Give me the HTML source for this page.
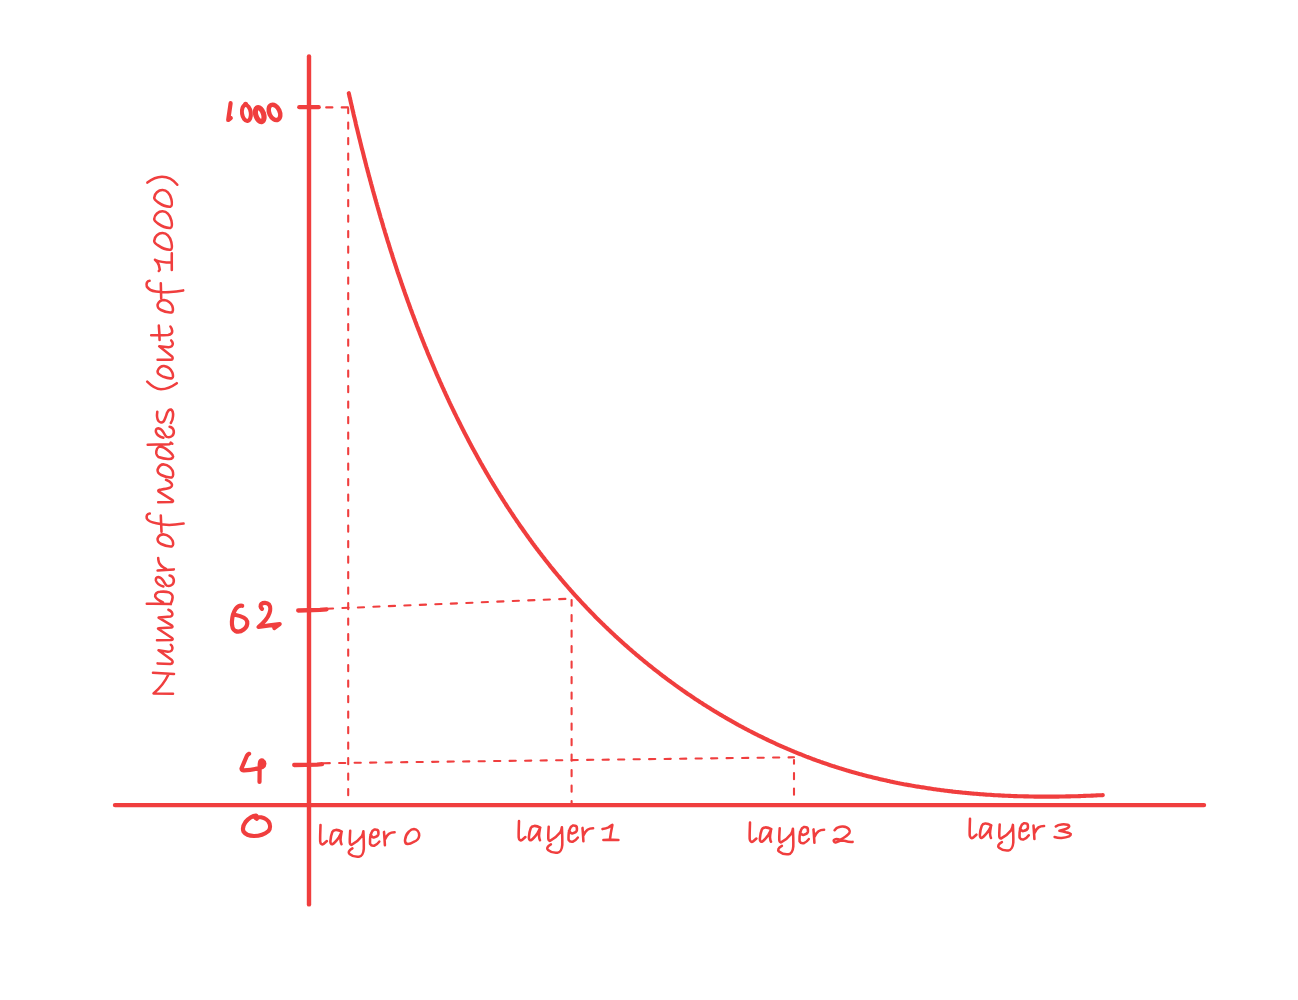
<!DOCTYPE html>
<html><head><meta charset="utf-8"><style>
html,body{margin:0;padding:0;background:#fff;width:1298px;height:1000px;overflow:hidden}
svg{display:block}
</style></head><body>
<svg width="1298" height="1000" viewBox="0 0 1298 1000">
<g fill="none" stroke="#f03e3e" stroke-linecap="round" stroke-linejoin="round">
<path d="M115,805.1 L1204,805.1" stroke-width="4.4"/>
<path d="M309,56.4 L309,904.4" stroke-width="4.4"/>
<path d="M348.8,93.2 L349.1,94.4 L349.3,95.7 L349.6,96.9 L349.9,98.1 L350.2,99.3 L350.4,100.5 L350.7,101.7 L351.0,103.0 L351.3,104.2 L351.6,105.4 L351.8,106.6 L352.1,107.8 L352.4,109.1 L352.7,110.3 L353.0,111.5 L353.3,112.7 L353.5,113.9 L353.8,115.2 L354.1,116.4 L354.4,117.6 L354.7,118.8 L355.0,120.0 L355.3,121.3 L355.6,122.5 L355.8,123.7 L356.1,124.9 L356.4,126.2 L356.7,127.4 L357.0,128.6 L357.3,129.8 L357.6,131.0 L357.9,132.3 L358.2,133.5 L358.5,134.7 L358.8,135.9 L359.1,137.2 L359.4,138.4 L359.7,139.6 L360.0,140.8 L360.3,142.1 L360.6,143.3 L360.9,144.5 L361.2,145.7 L361.5,147.0 L361.8,148.2 L362.1,149.4 L362.5,150.6 L362.8,151.9 L363.1,153.1 L363.4,154.3 L363.7,155.5 L364.0,156.8 L364.3,158.0 L364.6,159.2 L365.0,160.4 L365.3,161.7 L365.6,162.9 L365.9,164.1 L366.2,165.4 L366.5,166.6 L366.9,167.8 L367.2,169.0 L367.5,170.3 L367.8,171.5 L368.2,172.7 L368.5,173.9 L368.8,175.2 L369.1,176.4 L369.5,177.6 L369.8,178.8 L370.1,180.1 L370.5,181.3 L370.8,182.5 L371.1,183.8 L371.5,185.0 L371.8,186.2 L372.1,187.4 L372.5,188.7 L372.8,189.9 L373.1,191.1 L373.5,192.3 L373.8,193.6 L374.2,194.8 L374.5,196.0 L374.8,197.2 L375.2,198.5 L375.5,199.7 L375.9,200.9 L376.2,202.1 L376.6,203.4 L376.9,204.6 L377.3,205.8 L377.6,207.0 L378.0,208.3 L378.3,209.5 L378.7,210.7 L379.0,211.9 L379.4,213.2 L379.7,214.4 L380.1,215.6 L380.4,216.8 L380.8,218.1 L381.2,219.3 L381.5,220.5 L381.9,221.7 L382.3,223.0 L382.6,224.2 L383.0,225.4 L383.3,226.6 L383.7,227.9 L384.1,229.1 L384.5,230.3 L384.8,231.5 L385.2,232.8 L385.6,234.0 L385.9,235.2 L386.3,236.4 L386.7,237.6 L387.1,238.9 L387.4,240.1 L387.8,241.3 L388.2,242.5 L388.6,243.7 L389.0,245.0 L389.3,246.2 L389.7,247.4 L390.1,248.6 L390.5,249.8 L390.9,251.1 L391.3,252.3 L391.7,253.5 L392.1,254.7 L392.4,255.9 L392.8,257.2 L393.2,258.4 L393.6,259.6 L394.0,260.8 L394.4,262.0 L394.8,263.2 L395.2,264.5 L395.6,265.7 L396.0,266.9 L396.4,268.1 L396.8,269.3 L397.2,270.5 L397.6,271.8 L398.0,273.0 L398.4,274.2 L398.8,275.4 L399.3,276.6 L399.7,277.8 L400.1,279.0 L400.5,280.2 L400.9,281.5 L401.3,282.7 L401.7,283.9 L402.2,285.1 L402.6,286.3 L403.0,287.5 L403.4,288.7 L403.8,289.9 L404.3,291.1 L404.7,292.4 L405.1,293.6 L405.5,294.8 L406.0,296.0 L406.4,297.2 L406.8,298.4 L407.3,299.6 L407.7,300.8 L408.1,302.0 L408.6,303.2 L409.0,304.4 L409.4,305.6 L409.9,306.8 L410.3,308.0 L410.7,309.2 L411.2,310.4 L411.6,311.6 L412.1,312.8 L412.5,314.0 L413.0,315.2 L413.4,316.4 L413.9,317.6 L414.3,318.8 L414.8,320.0 L415.2,321.2 L415.7,322.4 L416.1,323.6 L416.6,324.8 L417.0,326.0 L417.5,327.2 L418.0,328.4 L418.4,329.6 L418.9,330.8 L419.4,332.0 L419.8,333.2 L420.3,334.4 L420.8,335.6 L421.2,336.8 L421.7,337.9 L422.2,339.1 L422.6,340.3 L423.1,341.5 L423.6,342.7 L424.1,343.9 L424.5,345.1 L425.0,346.3 L425.5,347.4 L426.0,348.6 L426.5,349.8 L427.0,351.0 L427.4,352.2 L427.9,353.4 L428.4,354.6 L428.9,355.7 L429.4,356.9 L429.9,358.1 L430.4,359.3 L430.9,360.5 L431.4,361.6 L431.9,362.8 L432.4,364.0 L432.9,365.2 L433.4,366.3 L433.9,367.5 L434.4,368.7 L434.9,369.9 L435.4,371.0 L435.9,372.2 L436.4,373.4 L436.9,374.6 L437.4,375.7 L437.9,376.9 L438.5,378.1 L439.0,379.2 L439.5,380.4 L440.0,381.6 L440.5,382.7 L441.1,383.9 L441.6,385.1 L442.1,386.2 L442.6,387.4 L443.2,388.6 L443.7,389.7 L444.2,390.9 L444.7,392.0 L445.3,393.2 L445.8,394.4 L446.3,395.5 L446.9,396.7 L447.4,397.8 L448.0,399.0 L448.5,400.1 L449.0,401.3 L449.6,402.5 L450.1,403.6 L450.7,404.8 L451.2,405.9 L451.8,407.1 L452.3,408.2 L452.9,409.4 L453.4,410.5 L454.0,411.7 L454.5,412.8 L455.1,413.9 L455.7,415.1 L456.2,416.2 L456.8,417.4 L457.4,418.5 L457.9,419.7 L458.5,420.8 L459.1,421.9 L459.6,423.1 L460.2,424.2 L460.8,425.4 L461.3,426.5 L461.9,427.6 L462.5,428.8 L463.1,429.9 L463.7,431.0 L464.2,432.2 L464.8,433.3 L465.4,434.4 L466.0,435.6 L466.6,436.7 L467.2,437.8 L467.8,438.9 L468.3,440.1 L468.9,441.2 L469.5,442.3 L470.1,443.4 L470.7,444.6 L471.3,445.7 L471.9,446.8 L472.5,447.9 L473.1,449.0 L473.7,450.1 L474.4,451.3 L475.0,452.4 L475.6,453.5 L476.2,454.6 L476.8,455.7 L477.4,456.8 L478.0,457.9 L478.6,459.1 L479.3,460.2 L479.9,461.3 L480.5,462.4 L481.1,463.5 L481.8,464.6 L482.4,465.7 L483.0,466.8 L483.6,467.9 L484.3,469.0 L484.9,470.1 L485.5,471.2 L486.2,472.3 L486.8,473.4 L487.5,474.5 L488.1,475.6 L488.8,476.7 L489.4,477.8 L490.0,478.8 L490.7,479.9 L491.3,481.0 L492.0,482.1 L492.6,483.2 L493.3,484.3 L494.0,485.4 L494.6,486.4 L495.3,487.5 L495.9,488.6 L496.6,489.7 L497.3,490.8 L497.9,491.8 L498.6,492.9 L499.3,494.0 L499.9,495.1 L500.6,496.1 L501.3,497.2 L502.0,498.3 L502.6,499.4 L503.3,500.4 L504.0,501.5 L504.7,502.6 L505.4,503.6 L506.0,504.7 L506.7,505.7 L507.4,506.8 L508.1,507.9 L508.8,508.9 L509.5,510.0 L510.2,511.0 L510.9,512.1 L511.6,513.1 L512.3,514.2 L513.0,515.3 L513.7,516.3 L514.4,517.4 L515.1,518.4 L515.8,519.4 L516.5,520.5 L517.2,521.5 L518.0,522.6 L518.7,523.6 L519.4,524.7 L520.1,525.7 L520.8,526.7 L521.6,527.8 L522.3,528.8 L523.0,529.8 L523.7,530.9 L524.5,531.9 L525.2,532.9 L525.9,534.0 L526.7,535.0 L527.4,536.0 L528.1,537.0 L528.9,538.1 L529.6,539.1 L530.4,540.1 L531.1,541.1 L531.9,542.2 L532.6,543.2 L533.4,544.2 L534.1,545.2 L534.9,546.2 L535.6,547.2 L536.4,548.2 L537.1,549.2 L537.9,550.3 L538.7,551.3 L539.4,552.3 L540.2,553.3 L541.0,554.3 L541.7,555.3 L542.5,556.3 L543.3,557.3 L544.1,558.3 L544.8,559.3 L545.6,560.3 L546.4,561.2 L547.2,562.2 L548.0,563.2 L548.8,564.2 L549.6,565.2 L550.3,566.2 L551.1,567.2 L551.9,568.2 L552.7,569.1 L553.5,570.1 L554.3,571.1 L555.1,572.1 L555.9,573.0 L556.7,574.0 L557.5,575.0 L558.4,576.0 L559.2,576.9 L560.0,577.9 L560.8,578.9 L561.6,579.8 L562.4,580.8 L563.2,581.8 L564.1,582.7 L564.9,583.7 L565.7,584.6 L566.6,585.6 L567.4,586.5 L568.2,587.5 L569.0,588.4 L569.9,589.4 L570.7,590.3 L571.6,591.3 L572.4,592.2 L573.2,593.2 L574.1,594.1 L574.9,595.1 L575.8,596.0 L576.6,596.9 L577.5,597.9 L578.3,598.8 L579.2,599.7 L580.1,600.7 L580.9,601.6 L581.8,602.5 L582.6,603.5 L583.5,604.4 L584.4,605.3 L585.3,606.2 L586.1,607.1 L587.0,608.1 L587.9,609.0 L588.8,609.9 L589.6,610.8 L590.5,611.7 L591.4,612.6 L592.3,613.5 L593.2,614.4 L594.1,615.4 L594.9,616.3 L595.8,617.2 L596.7,618.1 L597.6,619.0 L598.5,619.9 L599.4,620.7 L600.3,621.6 L601.2,622.5 L602.1,623.4 L603.1,624.3 L604.0,625.2 L604.9,626.1 L605.8,627.0 L606.7,627.8 L607.6,628.7 L608.5,629.6 L609.5,630.5 L610.4,631.4 L611.3,632.2 L612.2,633.1 L613.2,634.0 L614.1,634.8 L615.0,635.7 L615.9,636.6 L616.9,637.4 L617.8,638.3 L618.8,639.1 L619.7,640.0 L620.6,640.9 L621.6,641.7 L622.5,642.6 L623.5,643.4 L624.4,644.3 L625.4,645.1 L626.3,645.9 L627.3,646.8 L628.2,647.6 L629.2,648.5 L630.2,649.3 L631.1,650.1 L632.1,651.0 L633.0,651.8 L634.0,652.6 L635.0,653.4 L635.9,654.3 L636.9,655.1 L637.9,655.9 L638.9,656.7 L639.8,657.6 L640.8,658.4 L641.8,659.2 L642.8,660.0 L643.8,660.8 L644.7,661.6 L645.7,662.4 L646.7,663.2 L647.7,664.0 L648.7,664.8 L649.7,665.6 L650.7,666.4 L651.7,667.2 L652.7,668.0 L653.7,668.8 L654.7,669.6 L655.7,670.4 L656.7,671.1 L657.7,671.9 L658.7,672.7 L659.7,673.5 L660.7,674.3 L661.7,675.0 L662.7,675.8 L663.7,676.6 L664.8,677.3 L665.8,678.1 L666.8,678.9 L667.8,679.6 L668.8,680.4 L669.9,681.1 L670.9,681.9 L671.9,682.6 L673.0,683.4 L674.0,684.1 L675.0,684.9 L676.0,685.6 L677.1,686.4 L678.1,687.1 L679.2,687.9 L680.2,688.6 L681.2,689.3 L682.3,690.1 L683.3,690.8 L684.4,691.5 L685.4,692.2 L686.5,693.0 L687.5,693.7 L688.6,694.4 L689.6,695.1 L690.7,695.8 L691.7,696.5 L692.8,697.2 L693.8,698.0 L694.9,698.7 L696.0,699.4 L697.0,700.1 L698.1,700.8 L699.2,701.5 L700.2,702.2 L701.3,702.8 L702.4,703.5 L703.4,704.2 L704.5,704.9 L705.6,705.6 L706.7,706.3 L707.7,706.9 L708.8,707.6 L709.9,708.3 L711.0,709.0 L712.1,709.6 L713.1,710.3 L714.2,711.0 L715.3,711.6 L716.4,712.3 L717.5,712.9 L718.6,713.6 L719.7,714.2 L720.8,714.9 L721.9,715.5 L723.0,716.2 L724.1,716.8 L725.2,717.5 L726.3,718.1 L727.4,718.7 L728.5,719.4 L729.6,720.0 L730.7,720.6 L731.8,721.3 L732.9,721.9 L734.0,722.5 L735.1,723.1 L736.2,723.7 L737.3,724.4 L738.4,725.0 L739.6,725.6 L740.7,726.2 L741.8,726.8 L742.9,727.4 L744.0,728.0 L745.2,728.6 L746.3,729.2 L747.4,729.8 L748.5,730.4 L749.7,731.0 L750.8,731.5 L751.9,732.1 L753.0,732.7 L754.2,733.3 L755.3,733.9 L756.4,734.4 L757.6,735.0 L758.7,735.6 L759.9,736.1 L761.0,736.7 L762.1,737.2 L763.3,737.8 L764.4,738.4 L765.6,738.9 L766.7,739.5 L767.9,740.0 L769.0,740.6 L770.2,741.1 L771.3,741.6 L772.5,742.2 L773.6,742.7 L774.8,743.2 L775.9,743.8 L777.1,744.3 L778.2,744.8 L779.4,745.3 L780.5,745.8 L781.7,746.4 L782.9,746.9 L784.0,747.4 L785.2,747.9 L786.4,748.4 L787.5,748.9 L788.7,749.4 L789.9,749.9 L791.0,750.4 L792.2,750.9 L793.4,751.4 L794.5,751.9 L795.7,752.3 L796.9,752.8 L798.1,753.3 L799.2,753.8 L800.4,754.2 L801.6,754.7 L802.8,755.2 L804.0,755.6 L805.1,756.1 L806.3,756.6 L807.5,757.0 L808.7,757.5 L809.9,757.9 L811.1,758.4 L812.2,758.8 L813.4,759.3 L814.6,759.7 L815.8,760.1 L817.0,760.6 L818.2,761.0 L819.4,761.4 L820.6,761.9 L821.8,762.3 L823.0,762.7 L824.2,763.1 L825.4,763.5 L826.6,763.9 L827.8,764.3 L829.0,764.8 L830.2,765.2 L831.4,765.6 L832.6,766.0 L833.8,766.3 L835.0,766.7 L836.2,767.1 L837.4,767.5 L838.6,767.9 L839.8,768.3 L841.1,768.6 L842.3,769.0 L843.5,769.4 L844.7,769.8 L845.9,770.1 L847.1,770.5 L848.3,770.8 L849.6,771.2 L850.8,771.6 L852.0,771.9 L853.2,772.3 L854.4,772.6 L855.7,772.9 L856.9,773.3 L858.1,773.6 L859.3,774.0 L860.6,774.3 L861.8,774.6 L863.0,774.9 L864.2,775.3 L865.5,775.6 L866.7,775.9 L867.9,776.2 L869.1,776.5 L870.4,776.8 L871.6,777.1 L872.8,777.4 L874.1,777.7 L875.3,778.0 L876.5,778.3 L877.8,778.6 L879.0,778.9 L880.3,779.2 L881.5,779.5 L882.7,779.8 L884.0,780.1 L885.2,780.3 L886.5,780.6 L887.7,780.9 L888.9,781.1 L890.2,781.4 L891.4,781.7 L892.7,781.9 L893.9,782.2 L895.2,782.5 L896.4,782.7 L897.6,783.0 L898.9,783.2 L900.1,783.5 L901.4,783.7 L902.6,783.9 L903.9,784.2 L905.1,784.4 L906.4,784.6 L907.6,784.9 L908.9,785.1 L910.1,785.3 L911.4,785.6 L912.6,785.8 L913.9,786.0 L915.2,786.2 L916.4,786.4 L917.7,786.6 L918.9,786.8 L920.2,787.0 L921.4,787.2 L922.7,787.4 L923.9,787.6 L925.2,787.8 L926.5,788.0 L927.7,788.2 L929.0,788.4 L930.2,788.6 L931.5,788.8 L932.8,789.0 L934.0,789.2 L935.3,789.3 L936.5,789.5 L937.8,789.7 L939.1,789.8 L940.3,790.0 L941.6,790.2 L942.9,790.3 L944.1,790.5 L945.4,790.7 L946.7,790.8 L947.9,791.0 L949.2,791.1 L950.5,791.3 L951.7,791.4 L953.0,791.6 L954.2,791.7 L955.5,791.9 L956.8,792.0 L958.1,792.1 L959.3,792.3 L960.6,792.4 L961.9,792.5 L963.1,792.7 L964.4,792.8 L965.7,792.9 L966.9,793.0 L968.2,793.1 L969.5,793.3 L970.7,793.4 L972.0,793.5 L973.3,793.6 L974.6,793.7 L975.8,793.8 L977.1,793.9 L978.4,794.0 L979.6,794.1 L980.9,794.2 L982.2,794.3 L983.5,794.4 L984.7,794.5 L986.0,794.6 L987.3,794.7 L988.5,794.8 L989.8,794.8 L991.1,794.9 L992.4,795.0 L993.6,795.1 L994.9,795.2 L996.2,795.2 L997.5,795.3 L998.7,795.4 L1000.0,795.4 L1001.3,795.5 L1002.6,795.6 L1003.8,795.6 L1005.1,795.7 L1006.4,795.7 L1007.7,795.8 L1008.9,795.9 L1010.2,795.9 L1011.5,796.0 L1012.7,796.0 L1014.0,796.1 L1015.3,796.1 L1016.6,796.1 L1017.8,796.2 L1019.1,796.2 L1020.4,796.3 L1021.7,796.3 L1022.9,796.3 L1024.2,796.4 L1025.5,796.4 L1026.8,796.4 L1028.0,796.4 L1029.3,796.5 L1030.6,796.5 L1031.9,796.5 L1033.1,796.5 L1034.4,796.6 L1035.7,796.6 L1036.9,796.6 L1038.2,796.6 L1039.5,796.6 L1040.8,796.6 L1042.0,796.6 L1043.3,796.6 L1044.6,796.6 L1045.8,796.6 L1047.1,796.6 L1048.4,796.6 L1049.7,796.6 L1050.9,796.6 L1052.2,796.6 L1053.5,796.6 L1054.7,796.6 L1056.0,796.6 L1057.3,796.6 L1058.6,796.6 L1059.8,796.5 L1061.1,796.5 L1062.4,796.5 L1063.6,796.5 L1064.9,796.5 L1066.2,796.4 L1067.4,796.4 L1068.7,796.4 L1070.0,796.4 L1071.2,796.3 L1072.5,796.3 L1073.8,796.3 L1075.0,796.2 L1076.3,796.2 L1077.6,796.2 L1078.8,796.1 L1080.1,796.1 L1081.4,796.0 L1082.6,796.0 L1083.9,795.9 L1085.2,795.9 L1086.4,795.8 L1087.7,795.8 L1088.9,795.7 L1090.2,795.7 L1091.5,795.6 L1092.7,795.6 L1094.0,795.5 L1095.2,795.5 L1096.5,795.4 L1097.8,795.3 L1099.0,795.3 L1100.3,795.2 L1101.5,795.2 L1102.8,795.1" stroke-width="4.1"/>
<path d="M299.3,107.2 L318.7,107.2" stroke-width="4.3"/>
<path d="M298.2,610.5 L320,609.9 L326.5,609.3" stroke-width="4.3"/>
<path d="M294.2,765 L317,764.6 L322,764.2" stroke-width="4.3"/>
<path d="M326.2,107.4 L348.2,107.4" stroke-width="2.1" stroke-dasharray="6.2 9.3" stroke-dashoffset="0"/>
<path d="M348.2,108.5 L348.2,803" stroke-width="2.1" stroke-dasharray="6.2 9.3" stroke-dashoffset="1.4"/>
<path d="M322.4,608.9 L571.5,598.6" stroke-width="2.1" stroke-dasharray="6.2 9.3" stroke-dashoffset="11"/>
<path d="M571.6,600 L571.6,803" stroke-width="2.1" stroke-dasharray="6.2 9.3" stroke-dashoffset="0.5"/>
<path d="M316.2,763.3 L794,757.3" stroke-width="2.1" stroke-dasharray="6.2 9.3" stroke-dashoffset="8.1"/>
<path d="M794,760 L794,803" stroke-width="2.1" stroke-dasharray="6.2 9.3" stroke-dashoffset="2.5"/>
<g stroke-width="4.2">
<path d="M230.6,103.2 C230,108 229,114 228.2,120 L230.8,118"/>
<ellipse cx="246.4" cy="113.0" rx="4.4" ry="8.0" stroke-width="4.0" transform="rotate(-8 246.4 113.0)"/>
<circle cx="245.6" cy="104.2" r="2.5" fill="#f03e3e" stroke="none"/>
<ellipse cx="259.7" cy="114.6" rx="3.9" ry="7.3" stroke-width="5.2" transform="rotate(-18 259.7 114.6)"/>
<ellipse cx="274.5" cy="112.4" rx="5.2" ry="8.1" stroke-width="4.5" transform="rotate(-25 274.5 112.4)"/>
<path d="M242.2,605.8 C240,605.4 237.5,606.5 235.8,608.8 C233.5,612 232.2,617 231.9,621.6 C231.7,626 232.8,629.5 235.3,631 C238,632.2 241.5,631.2 243.7,629.5 C246.3,627.5 247.6,624 247.2,621.5 C246.5,618.5 242,616 234.8,614.7"/>
<path d="M262,608.8 C260.5,607.5 259.8,605.5 261.5,603.8 C263,602.6 267,602.3 269,604.5 C270.5,606.5 270.5,610.5 269.5,613 C268,618 264.5,622 258.5,627 C265,626 272,625 279.7,624.1 L274.3,628"/>
<circle cx="262.6" cy="763.2" r="2.4" fill="#f03e3e" stroke="none"/>
<path d="M249.1,753.8 C248,754.2 247.3,755 246.8,756 L241.5,768.5 C241.6,770 242.5,770.6 244,770.4 C250,770 257,769 262.5,767 C265,765.5 265,762 262.5,760.5 C260.5,759.5 259.8,762 259.7,765 L259.5,782"/>
<path d="M256.8,818.8 C256.3,817.5 257,815.8 256,815.6 C253,815.8 249,818 245.5,822 C243,825.5 242.5,829 243.5,831.5 C245.5,834.5 250,836 254,836 C259,836 265,834 268.5,831 C270.5,828.5 270.5,824.5 268.5,821.5 C266,818.5 262,817 258,817 L255.6,818"/>
</g>
<g stroke-width="2.55">
<g>
<path d="M320.5,825 C320.4,830 320,837 320.2,841.5 C320.4,844 322,845 323.5,844 L326.9,841"/>
<path d="M341.8,831.6 C339.5,830.3 337.5,829.8 335.7,829.9 C334,830 332.8,830.8 332.3,832 C331.3,834.5 330.6,838 330.4,841 C330.3,843 331,844.5 332.2,844.3 C334.5,843 337,840 338.8,837.4 C340,835.5 341,833.5 341.5,832.3 C341,835 340.5,838 340.5,840 C340.7,842 341,843.5 341.5,844.2"/>
<path d="M350.2,830.8 C350,835 349.6,839 349.8,842.6 C350,844.5 350.8,845 351.5,844.8 C355,843 359,840 361.6,836.5 C362.6,835 363.2,833 363.4,831.2 C363.7,837 363.9,844 363.8,848.8 C363.5,853 361.5,856.5 359,856.7 C356.5,857 352,856 349.5,854 C348,852.8 348.5,850.5 352.4,848.4"/>
<path d="M370.5,834.6 C371.5,836.5 372.5,837.5 373.8,837.4 C376,837 378,836 378.4,834.2 C378.6,832 378,830.2 377.5,830 C376,829.3 375,829.4 374.2,829.6 C372.8,830.2 371.8,831.5 371.5,832.8 C370.6,835 370.1,837 370.1,838.8 C370,841 370,843 370.1,843.9 C371,845.5 372.5,846 374.2,845.7 C376,845 378,843.5 379.3,841.6"/>
<path d="M384,831.9 C384.3,836 384.7,841 384.9,845.3 M385.3,838.8 C386.2,836.5 387.5,834.8 389,833.7 C390.5,832.7 392.5,832.3 394.6,832.3"/>
</g>
<path d="M414,829 C417,829.3 419.2,832 419.2,835.5 C419,838.5 416.5,841 413.5,842 C411.5,843.3 409.5,844 407.8,844 C405.8,843.8 404.9,842.3 405,840.2 C405.3,837 407,833.5 409,831.5 C410.6,829.8 412.5,829 414,829 Z"/>
<g transform="translate(198.5,-4)">
<path d="M320.5,825 C320.4,830 320,837 320.2,841.5 C320.4,844 322,845 323.5,844 L326.9,841"/>
<path d="M341.8,831.6 C339.5,830.3 337.5,829.8 335.7,829.9 C334,830 332.8,830.8 332.3,832 C331.3,834.5 330.6,838 330.4,841 C330.3,843 331,844.5 332.2,844.3 C334.5,843 337,840 338.8,837.4 C340,835.5 341,833.5 341.5,832.3 C341,835 340.5,838 340.5,840 C340.7,842 341,843.5 341.5,844.2"/>
<path d="M350.2,830.8 C350,835 349.6,839 349.8,842.6 C350,844.5 350.8,845 351.5,844.8 C355,843 359,840 361.6,836.5 C362.6,835 363.2,833 363.4,831.2 C363.7,837 363.9,844 363.8,848.8 C363.5,853 361.5,856.5 359,856.7 C356.5,857 352,856 349.5,854 C348,852.8 348.5,850.5 352.4,848.4"/>
<path d="M370.5,834.6 C371.5,836.5 372.5,837.5 373.8,837.4 C376,837 378,836 378.4,834.2 C378.6,832 378,830.2 377.5,830 C376,829.3 375,829.4 374.2,829.6 C372.8,830.2 371.8,831.5 371.5,832.8 C370.6,835 370.1,837 370.1,838.8 C370,841 370,843 370.1,843.9 C371,845.5 372.5,846 374.2,845.7 C376,845 378,843.5 379.3,841.6"/>
<path d="M384,831.9 C384.3,836 384.7,841 384.9,845.3 M385.3,838.8 C386.2,836.5 387.5,834.8 389,833.7 C390.5,832.7 392.5,832.3 394.6,832.3"/>
</g>
<path d="M602.5,829.1 C604.5,828.7 606.5,828.2 608.5,827.3 C610,826.5 611.5,825.5 612.4,824.9 C611.5,829 610.5,834 610,839 M603.4,839.9 C608,839.8 613,839.9 618.4,839.9"/>
<g transform="translate(429.5,-2.5)">
<path d="M320.5,825 C320.4,830 320,837 320.2,841.5 C320.4,844 322,845 323.5,844 L326.9,841"/>
<path d="M341.8,831.6 C339.5,830.3 337.5,829.8 335.7,829.9 C334,830 332.8,830.8 332.3,832 C331.3,834.5 330.6,838 330.4,841 C330.3,843 331,844.5 332.2,844.3 C334.5,843 337,840 338.8,837.4 C340,835.5 341,833.5 341.5,832.3 C341,835 340.5,838 340.5,840 C340.7,842 341,843.5 341.5,844.2"/>
<path d="M350.2,830.8 C350,835 349.6,839 349.8,842.6 C350,844.5 350.8,845 351.5,844.8 C355,843 359,840 361.6,836.5 C362.6,835 363.2,833 363.4,831.2 C363.7,837 363.9,844 363.8,848.8 C363.5,853 361.5,856.5 359,856.7 C356.5,857 352,856 349.5,854 C348,852.8 348.5,850.5 352.4,848.4"/>
<path d="M370.5,834.6 C371.5,836.5 372.5,837.5 373.8,837.4 C376,837 378,836 378.4,834.2 C378.6,832 378,830.2 377.5,830 C376,829.3 375,829.4 374.2,829.6 C372.8,830.2 371.8,831.5 371.5,832.8 C370.6,835 370.1,837 370.1,838.8 C370,841 370,843 370.1,843.9 C371,845.5 372.5,846 374.2,845.7 C376,845 378,843.5 379.3,841.6"/>
<path d="M384,831.9 C384.3,836 384.7,841 384.9,845.3 M385.3,838.8 C386.2,836.5 387.5,834.8 389,833.7 C390.5,832.7 392.5,832.3 394.6,832.3"/>
</g>
<path d="M834.6,830.2 C835.8,828.6 837,827.5 838.5,827.2 C840,826.7 841.5,826.5 843,826.6 C845.5,826.8 848,828 849,829.3 C850,831 850,832 849.6,832.6 C848.5,834.5 847,835.5 846,836.2 C844,837.6 842,838.8 840,839.8 C838.5,839.3 837,839 835.5,839.2 C834.3,839.5 833.5,840.3 833.7,841 C834,842 835,842.6 835.5,842.5 C837.5,842 839,841 840,840.7 C841.5,840.6 843,840.6 844.5,840.7 C847,841.5 850,842.2 852.6,841.9"/>
<g transform="translate(649.5,-6.3)">
<path d="M320.5,825 C320.4,830 320,837 320.2,841.5 C320.4,844 322,845 323.5,844 L326.9,841"/>
<path d="M341.8,831.6 C339.5,830.3 337.5,829.8 335.7,829.9 C334,830 332.8,830.8 332.3,832 C331.3,834.5 330.6,838 330.4,841 C330.3,843 331,844.5 332.2,844.3 C334.5,843 337,840 338.8,837.4 C340,835.5 341,833.5 341.5,832.3 C341,835 340.5,838 340.5,840 C340.7,842 341,843.5 341.5,844.2"/>
<path d="M350.2,830.8 C350,835 349.6,839 349.8,842.6 C350,844.5 350.8,845 351.5,844.8 C355,843 359,840 361.6,836.5 C362.6,835 363.2,833 363.4,831.2 C363.7,837 363.9,844 363.8,848.8 C363.5,853 361.5,856.5 359,856.7 C356.5,857 352,856 349.5,854 C348,852.8 348.5,850.5 352.4,848.4"/>
<path d="M370.5,834.6 C371.5,836.5 372.5,837.5 373.8,837.4 C376,837 378,836 378.4,834.2 C378.6,832 378,830.2 377.5,830 C376,829.3 375,829.4 374.2,829.6 C372.8,830.2 371.8,831.5 371.5,832.8 C370.6,835 370.1,837 370.1,838.8 C370,841 370,843 370.1,843.9 C371,845.5 372.5,846 374.2,845.7 C376,845 378,843.5 379.3,841.6"/>
<path d="M384,831.9 C384.3,836 384.7,841 384.9,845.3 M385.3,838.8 C386.2,836.5 387.5,834.8 389,833.7 C390.5,832.7 392.5,832.3 394.6,832.3"/>
</g>
<path d="M1055.8,826.5 C1057.5,825.2 1059.5,824.6 1061.5,824.4 C1063.5,824.3 1066,824.3 1067.5,824.7 C1069,825.2 1069.5,826 1069,826.8 C1068.3,827.8 1067,828.5 1066,828.9 C1064,829.8 1061.5,830.3 1059.4,830.7 C1062,831.2 1064,831.6 1066,832.2 C1068.5,832.8 1070.5,833.3 1070.8,834 C1071,835 1070,835.8 1069,836.4 C1067,837.3 1064,837.8 1061.5,837.9 C1059,838 1056.5,837.6 1054.6,837"/>
<path d="M173,693.8 L153.5,693.4 C158.5,689.5 164.5,683 168.8,673.8 M153,672.8 L174,673.9"/>
<path d="M157.6,663.4 L170.5,663.9 C173,663.6 173.2,661.5 171.8,660 L158.5,650.2 L168,651.8 C171.5,651.8 172.8,649.8 172.4,647.5 C172.2,646.2 171.5,645.3 170.8,644.8"/>
<path d="M157,640.2 L171.3,640 C173,639.8 173,638.8 172,638 L158.8,629.3 C157.8,628.5 157.8,628.3 158.5,628.3 L171.3,627.6 C172.8,627.3 172.8,626.3 172,625.6 L158.6,617.6 L170.6,616.5 C172.5,616 172.8,614 172,612.5 C171,611 169.5,610.2 168.4,609.8"/>
<path d="M146.8,603.8 C155,603.5 163,603.8 170.8,604.1 M163,602.5 C159,600.5 156,598.5 155.2,596.5 C154.8,594 157,592 160,591.8 C163,591.5 167,591.7 169,592.4 C171.5,593.5 172.8,595.5 172.6,597.5 C172.4,600 171.8,602 170.8,603.5"/>
<path d="M163.4,586.4 C160,585.5 156.8,583.5 155.9,580.5 C155.6,578.3 156.5,576.9 158.2,576.9 C160.5,577.2 162.5,579.2 163.6,581.2 C164.6,583 165.3,584.8 166.8,585.6 C168.5,586.2 170.8,585.8 172.2,584.6 C173.6,583.2 174.1,581.2 173.7,579.2 C173.2,577.3 171.5,575.9 169.6,575.5"/>
<path d="M157.6,570.4 L173.8,569.4 M166,569 C162,567 160,565 159,562.5 C158.5,561 158.2,559.5 158.2,558"/>
<path d="M157.6,538.5 C159,535 161.5,534.2 164,534.4 C167.5,534.9 171,537.5 172.5,540.5 C173.5,543 173.5,546 171.8,546.5 C168.3,547 164.3,545.5 161.2,544 C158.7,542.8 157.3,540.5 157.6,538.5 Z"/>
<path d="M149.8,513.6 C147,513.8 146.2,516 146.8,518.5 C148,521 152,522.5 156.3,523.3 C161,524.3 165,524.9 169.3,524.9 C174,524.8 179,524.2 183.6,523.6 M160.8,515.5 L161.5,531.8"/>
<path d="M158.2,502.2 L172.5,501.9 C173.5,501.5 173,500.5 172,499.8 L158.5,491.3 C158,490.5 158.5,490 159.5,489.8 C163,489.3 167,488.8 169.8,487.8 C172,487 172.5,485 171.5,483.5 C170.5,481.8 168,480.5 166,479.8"/>
<path d="M157.6,469.5 C159,466 161.5,464.2 164,464.4 C167.5,464.9 171,467.5 172.5,470.5 C173.5,473 173.5,477 171.8,477.5 C168.3,478 164.3,476.5 161.2,475 C158.7,473.8 157.3,471.5 157.6,469.5 Z"/>
<path d="M147.7,444.7 C155,444.5 162,444.5 169.3,444.2 C170.5,444 170.8,443 170.6,442.6 L172.3,443.7 M160.1,446.4 C158.5,447 157.3,448 157,449 C156.3,450.5 156,452 156.3,453.5 C156.8,455.5 157.5,456.5 158.5,457 C161.5,458 165,458.8 167.9,459 C170,459.2 171.8,458.8 172.5,457.9 C173.2,457 173.2,456 172.8,455.5 C172,454 170.8,452.8 169.3,451.5 C167.5,450 165.5,448.5 163.9,447.7 C162.5,447 161,446.6 160.1,446.4 Z"/>
<path transform="translate(0,-148.7)" d="M163.4,586.4 C160,585.5 156.8,583.5 155.9,580.5 C155.6,578.3 156.5,576.9 158.2,576.9 C160.5,577.2 162.5,579.2 163.6,581.2 C164.6,583 165.3,584.8 166.8,585.6 C168.5,586.2 170.8,585.8 172.2,584.6 C173.6,583.2 174.1,581.2 173.7,579.2 C173.2,577.3 171.5,575.9 169.6,575.5"/>
<path d="M157.3,411.8 C156.8,415 157,419 158.5,421 C160,422.8 162,422.8 163.5,421.5 C165,419.5 166,416 167,413 C168,410.5 169.5,409.3 171,409.5 C173,410.5 173.3,413.5 173,416.5 C172.8,419.5 171.8,421.5 170.8,423"/>
<path d="M147.2,381.6 C152,386.5 156.5,389.2 161,389.2 C166,389.2 171.5,387 176.8,383.2"/>
<path d="M158.4,369.2 C160,366.5 162,365.8 164,366 C167.5,366.5 171,369.5 172.3,372.5 C173.3,375 173.3,377.8 172,378.2 C169,378.8 166,377.8 163.5,376.8 C160.5,375.5 158.5,374.5 157.8,372.8 C157.4,371.5 157.8,370 158.4,369.2 Z"/>
<path d="M157.6,359.8 C162,359.8 167,359.9 171,359.8 C173,359.5 173,357.5 172,356.5 L159.2,346.3 L168.5,347.2 C171.5,347.2 173,345.5 172.8,343.5 C172.6,342 172,341 171.2,340.4"/>
<path d="M151.2,335.3 C157,335.2 163,335.3 168,335 C171,334.5 172.3,333 172.2,331 C172,329 171.3,327.5 170.4,326.5 M158.8,325.6 C159.2,330 159.5,335 159.6,340"/>
<path d="M157.6,304.5 C159,301 161.5,300 164,300 C167.5,300.5 171,303 172.3,306 C173.3,309 173.3,312 171.5,312.5 C168,313 164,311.5 161,310 C158.5,308.8 157.3,306.5 157.6,304.5 Z"/>
<path d="M149.6,280.8 C147,281 146,283.5 146.8,286.5 C148.5,289.5 152,291 156,291.5 C161,292.2 166,292.3 170.4,292 C175,291.8 179,291.2 183.2,290.4 M160.8,283.2 L161.2,298.4"/>
<path d="M171.8,253.2 C171.7,259 171.8,265 171.8,270 M155,259.8 C159,261.5 164,262.5 171,262.6 M155,259.8 C157,261.5 158.3,263.5 158.8,265 C159.3,267 159.6,268.5 159.8,269.8 L158.8,271"/>
<path transform="translate(163.1,241.4)" d="M-8.9,-0.5 C-8.8,-5 -4.5,-8.4 -0.5,-8.3 C3.5,-8.2 6.8,-4.5 8.3,1 C8.9,4 9,7.8 7.5,8.3 C4,8.6 -1.5,6.5 -5,4 C-7.5,2.3 -8.9,1 -8.9,-0.5 Z"/>
<path transform="translate(163.1,219.6)" d="M-8.9,-0.5 C-8.8,-5 -4.5,-8.4 -0.5,-8.3 C3.5,-8.2 6.8,-4.5 8.3,1 C8.9,4 9,7.8 7.5,8.3 C4,8.6 -1.5,6.5 -5,4 C-7.5,2.3 -8.9,1 -8.9,-0.5 Z"/>
<path transform="translate(163.1,198.35)" d="M-8.9,-0.5 C-8.8,-5 -4.5,-8.4 -0.5,-8.3 C3.5,-8.2 6.8,-4.5 8.3,1 C8.9,4 9,7.8 7.5,8.3 C4,8.6 -1.5,6.5 -5,4 C-7.5,2.3 -8.9,1 -8.9,-0.5 Z"/>
<path d="M147.4,182.6 C152,179 157,176.9 162,176.8 C167.5,176.8 173,179.5 177.3,184.7"/>
</g>
</g>
</svg>
</body></html>
